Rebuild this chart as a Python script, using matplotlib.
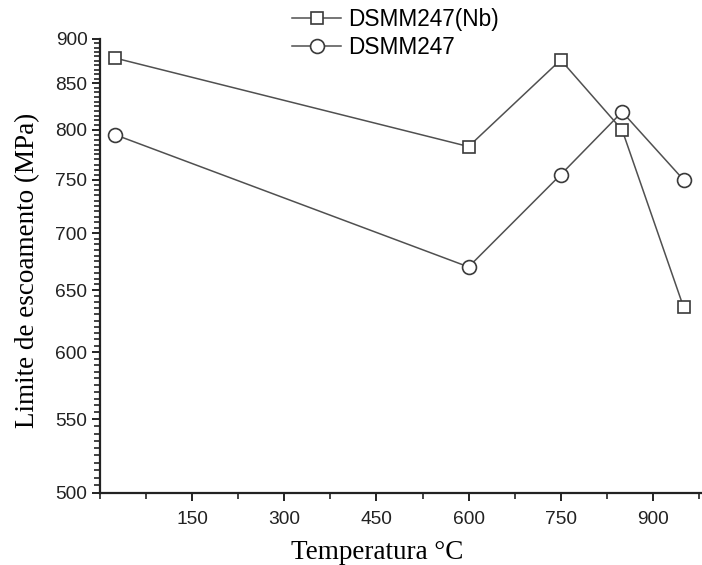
import matplotlib
matplotlib.use('Agg')
import matplotlib.pyplot as plt
from matplotlib.ticker import MultipleLocator, FixedLocator, NullFormatter, FormatStrFormatter

# Yield strength vs. temperature for the two alloys
temperatures = [25, 600, 750, 850, 950]
strength_nb = [878, 783, 876, 800, 636]
strength_base = [795, 670, 755, 819, 750]
series_labels = ['DSMM247(Nb)', 'DSMM247']
y_ticks = [500, 550, 600, 650, 700, 750, 800, 850, 900]

plt.rcParams['font.family'] = 'Liberation Sans'

fig = plt.figure(figsize=(7.02, 5.65), dpi=100)
ax = fig.add_axes([100 / 702, 72 / 565, 602 / 702, 454 / 565])

line_kw = dict(color='#505050', linewidth=1.1, markerfacecolor='white',
               markeredgecolor='#3a3a3a', markeredgewidth=1.2)
ax.plot(temperatures, strength_nb, marker='s', markersize=8.8,
        label=series_labels[0], **line_kw)
ax.plot(temperatures, strength_base, marker='o', markersize=10,
        label=series_labels[1], **line_kw)

ax.set_yscale('log')
ax.set_ylim(500, 900)
ax.set_xlim(0, 980)

ax.yaxis.set_major_locator(FixedLocator(y_ticks))
ax.yaxis.set_major_formatter(FormatStrFormatter('%d'))
ax.yaxis.set_minor_locator(MultipleLocator(5))
ax.yaxis.set_minor_formatter(NullFormatter())
ax.xaxis.set_major_locator(MultipleLocator(150))
ax.xaxis.set_minor_locator(MultipleLocator(75))
ax.set_xticks([150, 300, 450, 600, 750, 900])

for side in ('top', 'right'):
    ax.spines[side].set_visible(False)
for side in ('left', 'bottom'):
    ax.spines[side].set_linewidth(1.6)
    ax.spines[side].set_color('#222222')

ax.tick_params(axis='both', which='major', direction='out', length=6, width=1.4,
               color='#222222', labelsize=13.8, labelcolor='#222222')
ax.tick_params(axis='both', which='minor', direction='out', length=4, width=1.2,
               color='#222222')
ax.tick_params(axis='x', which='major', pad=7)
ax.tick_params(axis='y', which='major', pad=3)

ax.set_xlabel('Temperatura °C', family='Liberation Serif', fontsize=19.5)
ax.set_ylabel('Limite de escoamento (MPa)', family='Liberation Serif', fontsize=19.5)
ax.xaxis.set_label_coords(0.46, -0.104)
ax.yaxis.set_label_coords(-0.1, 0.49)

fig.legend(loc='upper left', bbox_to_anchor=(292 / 702, 1 - 8 / 565),
           frameon=False, fontsize=16.3, handlelength=2.17, handletextpad=0.3,
           labelspacing=0.2, borderpad=0, borderaxespad=0)

fig.savefig('out.png', dpi=100)
